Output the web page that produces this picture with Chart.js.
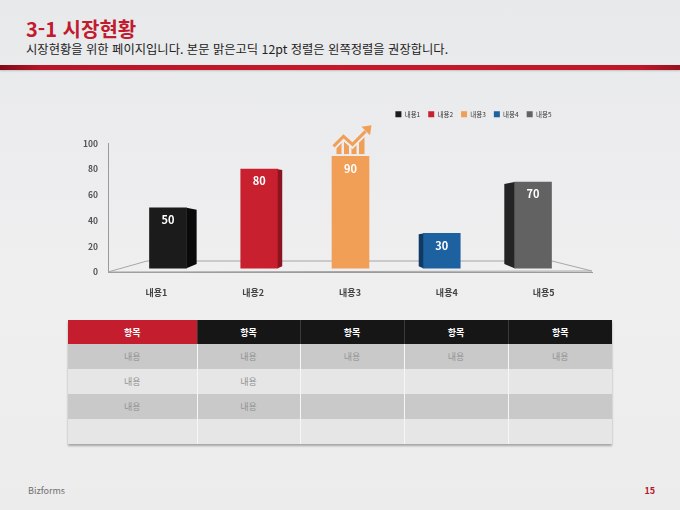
<!DOCTYPE html>
<html lang="ko">
<head>
<meta charset="utf-8">
<title>3-1 시장현황</title>
<script src="https://cdn.jsdelivr.net/npm/chart.js@4.4.1/dist/chart.umd.min.js"></script>
<style>
  html, body { margin: 0; padding: 0; }
  body {
    width: 680px; height: 510px; position: relative; overflow: hidden;
    background: linear-gradient(180deg, #e8e9eb 0%, #efeff0 55%, #ececed 100%);
    font-family: "Noto Sans CJK KR", "Noto Sans", sans-serif;
  }
  .title { position: absolute; left: 26px; top: 17px; font-size: 20px; font-weight: bold; color: #c21a2e; line-height: 24px; }
  .sub { position: absolute; left: 26px; top: 41px; font-size: 12.3px; color: #222; line-height: 16px; }
  .redline {
    position: absolute; left: 0; top: 65px; width: 680px; height: 5px;
    background: linear-gradient(90deg, #7e0c16 0%, #b8152a 6%, #c8192c 50%, #bf172a 94%, #9a1220 100%);
    box-shadow: 0 1px 2px rgba(0,0,0,0.18);
  }
  #chartBox { position: absolute; left: 60px; top: 100px; width: 560px; height: 210px; }
  table.grid {
    position: absolute; left: 68px; top: 320px; width: 544px;
    border-collapse: collapse; table-layout: fixed;
    box-shadow: 0 2px 2px rgba(0,0,0,0.3);
    font-size: 9px;
  }
  table.grid th {
    height: 24px; padding: 0; background: #161616; color: #fff; font-weight: bold;
    border-left: 1px solid #3a3a3a;
  }
  table.grid th:first-child { background: #c41e2e; border-left: none; }
  table.grid td {
    height: 25px; padding: 0; text-align: center; color: #929292;
    border-left: 1px solid #f6f6f6;
  }
  table.grid td:first-child { border-left: none; }
  table.grid tbody tr:nth-child(odd) td { background: #c9c9c9; }
  table.grid tbody tr:nth-child(even) td { background: #e6e6e6; }
  .foot-l { position: absolute; left: 28px; top: 484px; font-size: 9px; color: #707070; }
  .foot-r { position: absolute; right: 25px; top: 484px; font-size: 9px; color: #b5182a; font-weight: bold; }
</style>
</head>
<body>
<div class="title">3-1 시장현황</div>
<div class="sub">시장현황을 위한 페이지입니다. 본문 맑은고딕 12pt 정렬은 왼쪽정렬을 권장합니다.</div>
<div class="redline"></div>

<div id="chartBox"><canvas id="chart"></canvas></div>

<table class="grid" id="grid">
  <colgroup>
    <col style="width:129px"><col style="width:103px"><col style="width:104px"><col style="width:104px"><col style="width:104px">
  </colgroup>
  <thead><tr id="gridHead"></tr></thead>
  <tbody id="gridBody"></tbody>
</table>

<div class="foot-l">Bizforms</div>
<div class="foot-r">15</div>

<script>
const categories = ['내용1', '내용2', '내용3', '내용4', '내용5'];
const values = [50, 80, 90, 30, 70];
const yTicks = [0, 20, 40, 60, 80, 100];

const barColors = ['#1b1b1b', '#c8202f', '#f19e56', '#1e61a0', '#626262'];
const sideColors = ['#0a0a0a', '#8a1420', '#c77c3a', '#0e3a64', '#242424'];

const tableHeaders = ['항목', '항목', '항목', '항목', '항목'];
const tableRows = [
    ['내용', '내용', '내용', '내용', '내용'],
    ['내용', '내용', '', '', ''],
    ['내용', '내용', '', '', ''],
    ['', '', '', '', '']
];

const FONT = '"Noto Sans CJK KR", "Noto Sans", sans-serif';
const ICON_BAR = 2; // the rising-arrow icon sits on 내용3

// table
let head = document.getElementById('gridHead');
tableHeaders.forEach(h => {
    let th = document.createElement('th');
    th.textContent = h;
    head.appendChild(th);
});
let body = document.getElementById('gridBody');
tableRows.forEach(row => {
    let tr = document.createElement('tr');
    row.forEach(cell => {
        let td = document.createElement('td');
        td.textContent = cell;
        tr.appendChild(td);
    });
    body.appendChild(tr);
});

function drawIcon(ctx, cx, by, color) {
    // roof / arrow line, relative to top-center of the bar
    const roof = [[-17, -8], [-7, -18], [2, -10], [15, -23]];
    ctx.save();
    ctx.translate(cx, by - 2);

    // little columns under the roof line
    ctx.save();
    ctx.beginPath();
    ctx.moveTo(-17, 0);
    roof.forEach(p => ctx.lineTo(p[0], p[1] + 5));
    ctx.lineTo(17, -18);
    ctx.lineTo(17, 0);
    ctx.closePath();
    ctx.clip();
    ctx.fillStyle = color;
    [[-14, -9], [-6.5, -1.5], [1, 6], [8.5, 14]].forEach(c => {
        ctx.fillRect(c[0], -30, c[1] - c[0], 30);
    });
    ctx.restore();

    // zigzag line
    ctx.strokeStyle = color;
    ctx.lineWidth = 3;
    ctx.lineJoin = 'miter';
    ctx.beginPath();
    ctx.moveTo(roof[0][0], roof[0][1]);
    roof.slice(1).forEach(p => ctx.lineTo(p[0], p[1]));
    ctx.stroke();

    // arrow head
    ctx.fillStyle = color;
    ctx.beginPath();
    ctx.moveTo(21, -29);
    ctx.lineTo(19.5, -19);
    ctx.lineTo(11, -27.5);
    ctx.closePath();
    ctx.fill();
    ctx.restore();
}

const bar3d = {
    id: 'bar3d',
    afterLayout(chart) {
        // legend sits higher and ends at the right edge of the last bar
        const lg = chart.legend;
        if (!lg) return;
        lg.top -= 16;
        lg.bottom -= 16;
        lg.right = chart.scales.xb.getPixelForValue(categories.length - 1) + 18.5 + 8;
    },
    beforeDatasetsDraw(chart) {
        // floor plate
        const { ctx, chartArea: a, scales: { y } } = chart;
        const y0 = y.getPixelForValue(0);
        const back = y0 - 11;
        ctx.save();
        ctx.beginPath();
        ctx.moveTo(a.left, y0);
        ctx.lineTo(a.left + 39, back);
        ctx.lineTo(a.right - 40, back);
        ctx.lineTo(a.right, y0 - 1);
        ctx.closePath();
        ctx.fillStyle = '#efeff0';
        ctx.fill();
        ctx.strokeStyle = '#a6a6a6';
        ctx.lineWidth = 1;
        ctx.stroke();
        ctx.restore();
    },
    afterDatasetsDraw(chart) {
        const { ctx, chartArea: a } = chart;
        const vx = (a.left + a.right) / 2;
        const meta = chart.getDatasetMeta(0);
        ctx.save();
        meta.data.forEach((bar, i) => {
            const { x, y: top, base, width } = bar.getProps(['x', 'y', 'base', 'width'], true);
            const edge = x < vx ? x + width / 2 : x - width / 2;
            const dx = (vx - edge) * 0.062;
            if (Math.abs(dx) >= 2) {
                const dyT = Math.abs(dx) * 0.2, dyB = Math.abs(dx) * 0.4;
                ctx.beginPath();
                ctx.moveTo(edge, top);
                ctx.lineTo(edge + dx, top + dyT);
                ctx.lineTo(edge + dx, base - dyB);
                ctx.lineTo(edge, base);
                ctx.closePath();
                ctx.fillStyle = sideColors[i];
                ctx.fill();
            }
            ctx.fillStyle = '#ffffff';
            ctx.font = 'bold 11px ' + FONT;
            ctx.textAlign = 'center';
            ctx.textBaseline = 'middle';
            ctx.fillText(String(values[i]), x, top + 12);
            if (i === ICON_BAR) drawIcon(ctx, x, top, barColors[i]);
        });
        ctx.restore();
    }
};

new Chart(document.getElementById('chart'), {
    type: 'bar',
    data: {
        datasets: [{
            data: values.map((v, i) => ({ x: i, y: v })),
            xAxisID: 'xb',
            yAxisID: 'y',
            backgroundColor: barColors,
            borderWidth: 0,
            barThickness: 37,
            base: 3
        }]
    },
    options: {
        responsive: true,
        maintainAspectRatio: false,
        animation: false,
        events: [],
        layout: { padding: { top: 19, right: 28, bottom: 0, left: 0 } },
        plugins: {
            tooltip: { enabled: false },
            legend: {
                position: 'top',
                align: 'end',
                labels: {
                    boxWidth: 6,
                    boxHeight: 6,
                    padding: 8,
                    color: '#333',
                    font: { family: FONT, size: 6.5 },
                    generateLabels: () => categories.map((c, i) => ({
                        text: c,
                        fillStyle: barColors[i],
                        strokeStyle: barColors[i],
                        lineWidth: 0,
                        hidden: false,
                        index: i,
                        fontColor: '#333'
                    }))
                }
            }
        },
        scales: {
            xb: {
                type: 'linear',
                display: false,
                position: 'bottom',
                offset: false,
                grid: { offset: false },
                min: -0.6575,
                max: 4.6466
            },
            x: {
                type: 'category',
                labels: categories,
                position: 'bottom',
                offset: true,
                grid: { display: false, drawTicks: false },
                border: { display: true, color: '#9a9a9a', width: 1 },
                ticks: { color: '#444', padding: 15, font: { family: FONT, size: 9, weight: 'bold' } },
                afterFit: s => { s.height = 38; }
            },
            y: {
                type: 'linear',
                min: 0,
                max: 100,
                grid: { display: false, drawTicks: false },
                border: { display: true, color: '#9a9a9a', width: 1 },
                ticks: { color: '#555', padding: 10, font: { family: FONT, size: 8.5, weight: 'bold' } },
                afterBuildTicks: s => { s.ticks = yTicks.map(v => ({ value: v })); },
                afterFit: s => { s.width = 48; }
            }
        }
    },
    plugins: [bar3d]
});
</script>
</body>
</html>
